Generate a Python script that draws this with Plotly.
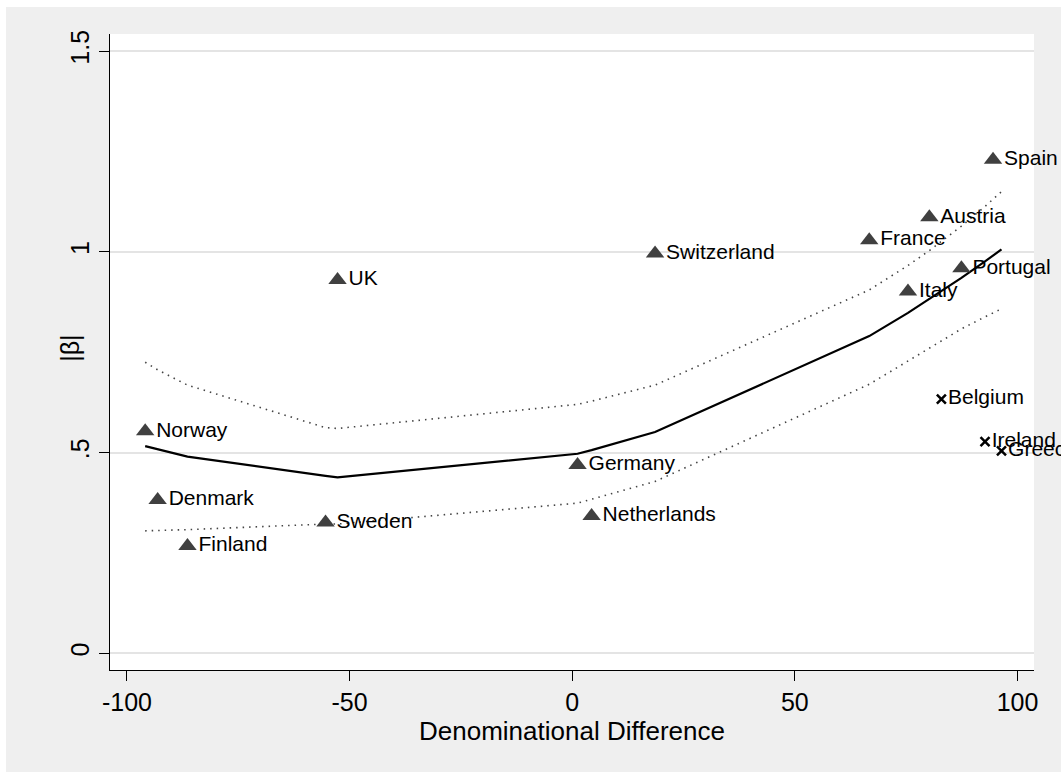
import plotly.graph_objects as go

# Countries with triangle markers
tri_names = ["Norway", "Denmark", "Finland", "Sweden", "UK", "Germany", "Netherlands",
             "Switzerland", "France", "Italy", "Austria", "Portugal", "Spain"]
tri_x = [-95.9, -93.1, -86.4, -55.4, -52.7, 1.2, 4.35, 18.6, 66.7, 75.4, 80.2, 87.4, 94.5]
tri_y = [0.553, 0.382, 0.267, 0.326, 0.930, 0.469, 0.342, 0.996, 1.029, 0.901, 1.086, 0.959, 1.229]

# Countries with cross markers
x_names = ["Belgium", "Ireland", "Greece"]
x_x = [82.9, 92.7, 96.4]
x_y = [0.633, 0.527, 0.504]

# Fitted values with confidence band, evaluated at each country's difference
fit_x = [-95.9, -93.1, -86.4, -55.4, -52.7, 1.2, 4.35, 18.6, 66.7, 75.4, 80.2, 82.9, 87.4, 92.7, 94.5, 96.4]
fit_y = [0.516, 0.508, 0.490, 0.442, 0.438, 0.497, 0.506, 0.551, 0.790, 0.848, 0.882, 0.902, 0.935, 0.976, 0.990, 1.006]
ci_hi = [0.725, 0.706, 0.668, 0.562, 0.560, 0.620, 0.628, 0.668, 0.905, 0.966, 1.003, 1.026, 1.064, 1.113, 1.130, 1.150]
ci_lo = [0.305, 0.306, 0.308, 0.322, 0.322, 0.374, 0.384, 0.428, 0.670, 0.728, 0.760, 0.778, 0.808, 0.838, 0.848, 0.858]

x_ticks = [-100, -50, 0, 50, 100]
x_tick_text = ["-100", "-50", "0", "50", "100"]
y_ticks = [0, 0.5, 1, 1.5]
y_tick_text = ["0", ".5", "1", "1.5"]

FONT = "Liberation Sans, Arial, Helvetica, sans-serif"
BG = "#efefef"

fig = go.Figure()

for band in (ci_hi, ci_lo):
    fig.add_trace(go.Scatter(
        x=fit_x, y=band, mode="lines",
        line=dict(color="#444444", width=1.6, dash="1.5px,5px"),
        hoverinfo="skip", showlegend=False,
    ))

fig.add_trace(go.Scatter(
    x=fit_x, y=fit_y, mode="lines",
    line=dict(color="black", width=2.2),
    showlegend=False,
))

fig.add_trace(go.Scatter(
    x=tri_x, y=tri_y, mode="markers+text",
    text=tri_names, textposition="middle right",
    textfont=dict(family=FONT, size=21, color="black"),
    marker=dict(symbol="triangle-up", size=16, color="#404040"),
    cliponaxis=False, showlegend=False,
))

fig.add_trace(go.Scatter(
    x=x_x, y=x_y, mode="markers+text",
    text=x_names, textposition="middle right",
    textfont=dict(family=FONT, size=21, color="black"),
    marker=dict(symbol="x-thin", size=9, color="black",
                line=dict(color="black", width=2.5)),
    cliponaxis=False, showlegend=False,
))

# thin white strips along the left and top edges of the page
fig.add_shape(type="rect", xref="paper", yref="paper",
              x0=-110 / 924, x1=-104 / 924, y0=-0.2, y1=1.1,
              fillcolor="white", line=dict(width=0), layer="above")
fig.add_shape(type="rect", xref="paper", yref="paper",
              x0=-0.2, x1=1.1, y0=663 / 636, y1=1.1,
              fillcolor="white", line=dict(width=0), layer="above")

fig.add_annotation(
    text="|β|", xref="paper", yref="paper",
    x=(70 - 110) / 924, y=0.505, textangle=-90,
    showarrow=False, xanchor="center", yanchor="middle",
    font=dict(family=FONT, size=25, color="black"),
)

fig.update_layout(
    width=1061, height=772,
    margin=dict(l=110, r=27, t=34, b=102),
    paper_bgcolor=BG, plot_bgcolor="white",
    font=dict(family=FONT, color="black"),
    xaxis=dict(
        range=[-103.8, 103.7], tickvals=x_ticks, ticktext=x_tick_text,
        ticks="outside", ticklen=10, tickwidth=1, tickcolor="black",
        showline=True, linecolor="black", linewidth=1,
        showgrid=False, zeroline=False,
        tickfont=dict(family=FONT, size=25),
        title=dict(text="Denominational Difference",
                   font=dict(family=FONT, size=26), standoff=2),
    ),
    yaxis=dict(
        range=[-0.0416, 1.5425], tickvals=y_ticks, ticktext=y_tick_text,
        tickangle=-90,
        ticks="outside", ticklen=10, tickwidth=1, tickcolor="black",
        showline=True, linecolor="black", linewidth=1,
        showgrid=True, gridcolor="#e4e4e4", gridwidth=1.5, zeroline=False,
        tickfont=dict(family=FONT, size=25),
    ),
)

fig.write_html("out.html")
